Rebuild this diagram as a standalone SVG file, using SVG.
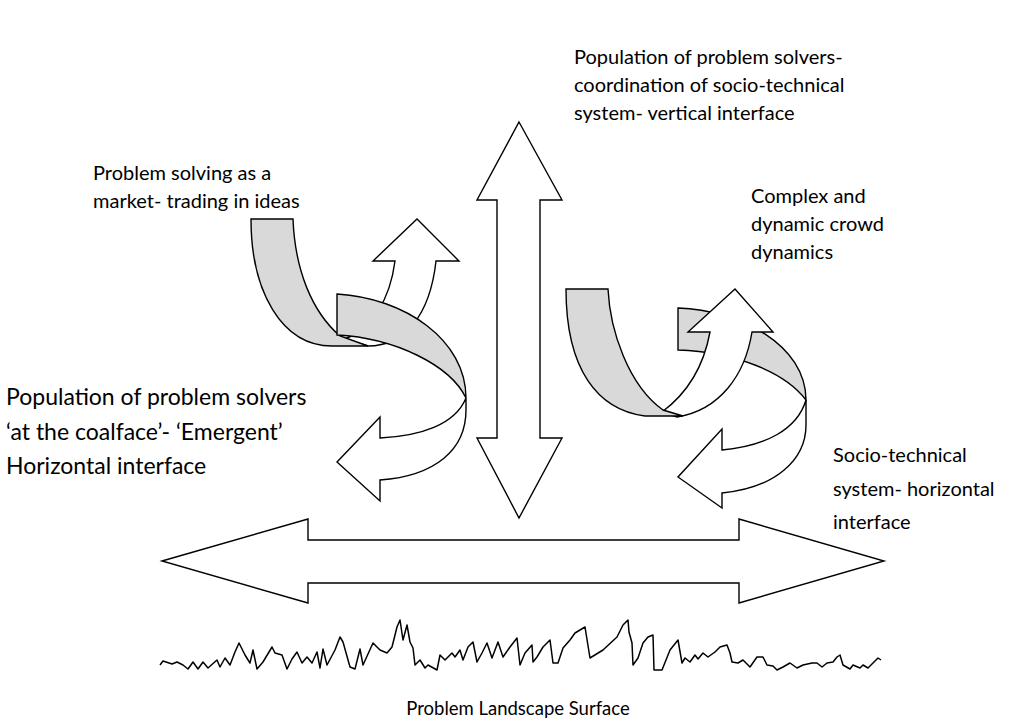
<svg xmlns="http://www.w3.org/2000/svg" width="1021" height="725" viewBox="0 0 1021 725">
<style>
.t{font-family:Lato,"Liberation Sans",sans-serif;font-size:20px;fill:#000}
.tl{font-size:23px}
.tb{font-size:18.5px}
.w{fill:#fff;stroke:#000;stroke-width:1.4;stroke-linejoin:miter}
.g{fill:#d9d9d9;stroke:#000;stroke-width:1.4;stroke-linejoin:miter}
</style>
<rect width="1021" height="725" fill="#fff"/>
<g id="connectors">
<path id="vertical-arrow" class="w" d="M519,122 L562,200 L540,200 L540,438 L562,438 L519,518 L477,438 L497,438 L497,200 L477,200 Z"/>
<path id="horizontal-arrow" class="w" d="M162,561 L308,519 L308,540 L739,540 L739,519 L884,561 L739,603 L739,583 L308,583 L308,603 Z"/>
<g id="left-curl">
<path class="w" d="M345,339 C372,328 390,300 395,261 L373,261 L417,219 L459,261 L436,261 C430,315 405,346 368,346 Z"/>
<path class="g" d="M251,219 L293,219 C295,270 312,312 340,336 L368,346 L332,346 C282,346 251,292 251,219 Z"/>
<path class="g" d="M337,294 C405,298 466,340 466,398 C450,365 395,338 337,335 Z"/>
<path class="w" d="M466,398 C455,425 420,436 380,438 L380,417 L337,462 L380,501 L380,480 C435,476 466,450 466,410 Z"/>
</g>
<g id="right-curl">
<path class="g" d="M678,308 C740,310 806,345 806,400 C785,372 735,352 678,350 Z"/>
<path class="w" d="M662,412 C685,395 703,370 710,332 L688,332 L735,289 L773,332 L752,332 C745,375 720,410 677,417 Z"/>
<path class="g" d="M566,289 L608,289 C610,330 628,385 663,410 L683,416 L645,416 C598,410 566,370 566,289 Z"/>
<path class="w" d="M806,400 C797,430 765,446 722,450 L722,429 L678,477 L722,508 L722,493 C775,488 806,460 806,425 Z"/>
</g>
</g>
<g id="landscape">
<polyline fill="none" stroke="#000" stroke-width="1.5" stroke-linejoin="round" points="160,665 163,661 172,664 177,662 183,665 188,669 193,662 198,669 203,662 208,668 217,660 220,667 225,658 230,665 235,652 239,643 245,655 250,663 253,650 257,669 263,662 272,647 275,653 282,655 287,669 292,659 297,652 302,663 307,657 312,663 317,652 320,668 323,649 327,665 335,650 340,637 343,642 350,667 355,669 360,649 363,665 373,643 380,650 387,653 392,647 397,627 400,620 403,640 407,625 410,642 413,648 415,665 420,660 425,668 428,665 437,670 440,655 445,660 452,653 455,657 460,650 463,660 468,647 473,642 477,662 482,653 487,643 492,658 498,642 503,657 510,647 517,638 520,665 525,653 532,645 533,662 537,657 543,647 550,640 553,663 558,663 563,648 570,640 575,633 580,630 585,627 590,658 603,650 617,637 623,625 628,620 629,632 632,643 633,665 638,658 643,643 648,637 653,635 654,670 662,670 670,650 678,640 682,663 685,658 690,662 695,655 698,659 703,653 708,657 715,652 720,647 727,645 730,653 732,662 738,663 743,660 750,667 757,657 763,657 767,665 773,666 777,670 783,667 790,663 797,668 803,665 812,663 817,663 822,667 827,663 833,662 837,657 840,655 843,665 850,669 853,665 860,668 863,665 868,668 873,663 878,658 881,660"/>
</g>
<g id="label-top"><text class="t" x="574" y="64">Population of problem solvers-</text><text class="t" x="574" y="92">coordination of socio-technical</text><text class="t" x="574" y="120">system- vertical interface</text></g>
<g id="label-market"><text class="t" x="93" y="180">Problem solving as a</text><text class="t" x="93" y="208">market- trading in ideas</text></g>
<g id="label-crowd"><text class="t" x="751" y="203">Complex and</text><text class="t" x="751" y="231">dynamic crowd</text><text class="t" x="751" y="259">dynamics</text></g>
<g id="label-coalface"><text class="t tl" x="6" y="405">Population of problem solvers</text><text class="t tl" x="6" y="440">‘at the coalface’- ‘Emergent’</text><text class="t tl" x="6" y="474">Horizontal interface</text></g>
<g id="label-socio"><text class="t" x="833" y="462">Socio-technical</text><text class="t" x="833" y="496">system- horizontal</text><text class="t" x="833" y="529">interface</text></g>
<g id="label-surface"><text class="t tb" x="518" y="715" text-anchor="middle">Problem Landscape Surface</text></g>
</svg>
